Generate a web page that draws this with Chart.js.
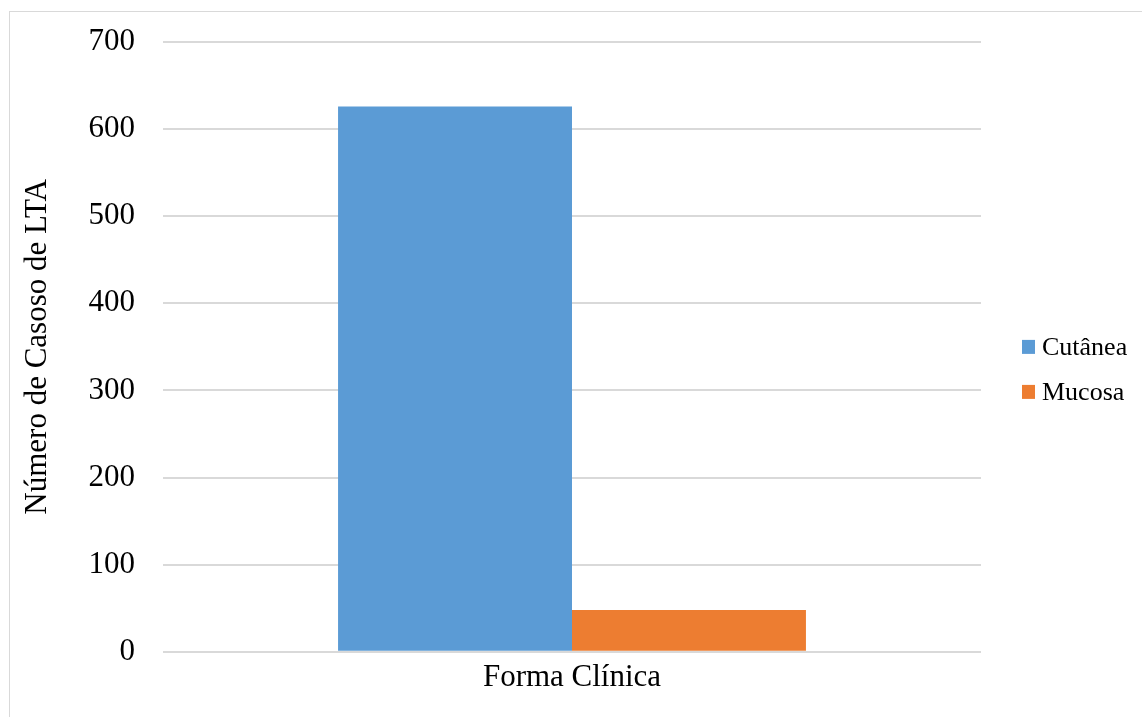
<!DOCTYPE html>
<html>
<head>
<meta charset="utf-8">
<script src="https://cdn.jsdelivr.net/npm/chart.js@4"></script>
<style>
  html, body { margin: 0; padding: 0; width: 1142px; height: 717px; overflow: hidden; background: #fff; }
  #frame { position: absolute; left: 9px; top: 11px; width: 1200px; height: 800px; border: 1px solid #d9d9d9; box-sizing: border-box; }
  #wrap { position: absolute; left: 0; top: 0; width: 1142px; height: 717px; }
</style>
</head>
<body>
<div id="frame"></div>
<div id="wrap"><canvas id="chart" width="1142" height="717"></canvas></div>
<script>
const categories = ['Forma Clínica'];
const seriesNames = ['Cutânea', 'Mucosa'];
const cutaneaValues = [626];
const mucosaValues = [48];
const yTicks = [0, 100, 200, 300, 400, 500, 600, 700];
const colors = ['#5b9bd5', '#ed7d31'];

const FONT = '"Liberation Serif", "Times New Roman", serif';

// Legend on the right side, drawn next to the plot area
const sideLegend = {
  id: 'sideLegend',
  afterDraw(chart) {
    const ctx = chart.ctx;
    const area = chart.chartArea;
    const x = area.right + 41;
    const mid = (area.top + area.bottom) / 2;
    ctx.save();
    ctx.font = '26px ' + FONT;
    ctx.textBaseline = 'middle';
    ctx.textAlign = 'left';
    chart.data.datasets.forEach((ds, i) => {
      const cy = mid + i * 45;
      ctx.fillStyle = ds.backgroundColor;
      ctx.fillRect(x, cy - 7, 13, 14);
      ctx.fillStyle = '#000';
      ctx.fillText(ds.label, x + 20, cy + 1);
    });
    ctx.restore();
  }
};

new Chart(document.getElementById('chart'), {
  type: 'bar',
  data: {
    labels: categories,
    datasets: [
      { label: seriesNames[0], data: cutaneaValues, backgroundColor: colors[0] },
      { label: seriesNames[1], data: mucosaValues, backgroundColor: colors[1] }
    ]
  },
  options: {
    responsive: false,
    animation: false,
    layout: { padding: { top: 42, right: 161, bottom: 14, left: 0 } },
    plugins: { legend: { display: false }, tooltip: { enabled: false } },
    datasets: { bar: { categoryPercentage: 0.572, barPercentage: 1.0 } },
    scales: {
      x: {
        grid: { display: false, drawTicks: false },
        border: { display: false },
        ticks: { color: '#000', font: { family: FONT, size: 31 }, padding: 7 }
      },
      y: {
        min: 0,
        max: 700,
        afterBuildTicks(scale) { scale.ticks = yTicks.map(v => ({ value: v })); },
        afterFit(scale) {
          scale.width = 163;
          scale.paddingTop = 0;
          scale.paddingBottom = 0;
        },
        grid: { color: '#d9d9d9', lineWidth: 2, drawTicks: false },
        border: { display: false },
        ticks: { color: '#000', font: { family: FONT, size: 31 }, padding: 28 },
        title: {
          display: true,
          text: 'Número de Casoso de LTA',
          color: '#000',
          font: { family: FONT, size: 31 },
          padding: { top: 19, bottom: 0 }
        }
      }
    }
  },
  plugins: [sideLegend]
});
</script>
</body>
</html>
